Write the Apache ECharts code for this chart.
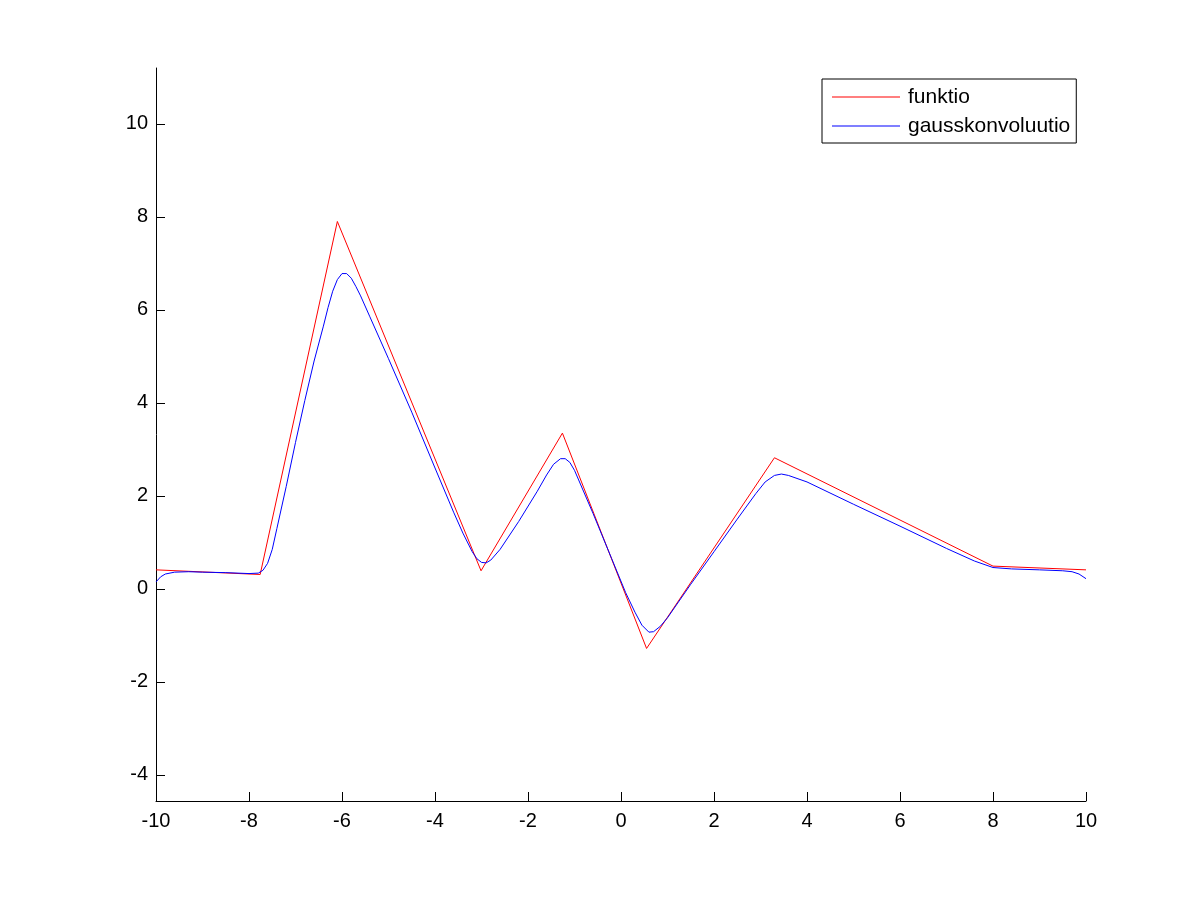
<!DOCTYPE html>
<html>
<head>
<meta charset="utf-8">
<script src="https://cdn.jsdelivr.net/npm/echarts@6/dist/echarts.min.js"></script>
<style>html,body{margin:0;padding:0;background:#fff;}#c{width:1201px;height:901px;}</style>
</head>
<body>
<div id="c"></div>
<script>
const seriesNames = ['funktio', 'gausskonvoluutio'];
const xTicks = [-10, -8, -6, -4, -2, 0, 2, 4, 6, 8, 10];
const yTicks = [-4, -2, 0, 2, 4, 6, 8, 10];
const funktio = [
  [-10, 0.41], [-7.76, 0.31], [-6.1, 7.9], [-3.01, 0.39], [-1.26, 3.35],
  [0.55, -1.28], [3.3, 2.82], [8.0, 0.49], [10, 0.41]
];
const gauss = [
  [-10, 0.15], [-9.9, 0.26], [-9.8, 0.32], [-9.6, 0.36], [-9.3, 0.37], [-9.0, 0.36],
  [-8.5, 0.35], [-8.0, 0.33], [-7.8, 0.34], [-7.7, 0.40], [-7.6, 0.55], [-7.5, 0.85],
  [-7.4, 1.3], [-7.2, 2.2], [-7.0, 3.15], [-6.8, 4.05], [-6.6, 4.9], [-6.4, 5.65],
  [-6.3, 6.05], [-6.2, 6.4], [-6.1, 6.65], [-6.0, 6.78], [-5.9, 6.78], [-5.8, 6.68],
  [-5.7, 6.5], [-5.6, 6.3], [-5.4, 5.85], [-5.0, 4.95], [-4.5, 3.8], [-4.0, 2.6],
  [-3.6, 1.65], [-3.4, 1.2], [-3.2, 0.8], [-3.1, 0.65], [-3.0, 0.57], [-2.9, 0.56],
  [-2.8, 0.62], [-2.6, 0.85], [-2.2, 1.45], [-1.8, 2.1], [-1.6, 2.45], [-1.45, 2.68],
  [-1.3, 2.8], [-1.2, 2.8], [-1.1, 2.72], [-1.0, 2.55], [-0.6, 1.62], [-0.2, 0.65],
  [0.1, -0.08], [0.3, -0.5], [0.45, -0.78], [0.6, -0.93], [0.7, -0.92], [0.85, -0.8],
  [1.0, -0.62], [1.5, 0.1], [2.0, 0.8], [2.5, 1.5], [2.9, 2.05], [3.1, 2.3],
  [3.3, 2.44], [3.45, 2.47], [3.6, 2.44], [4.0, 2.3], [5.0, 1.82], [6.0, 1.35],
  [7.0, 0.87], [7.6, 0.6], [8.0, 0.46], [8.4, 0.43], [9.0, 0.41], [9.5, 0.39],
  [9.7, 0.37], [9.85, 0.32], [10.0, 0.22]
];

const chart = echarts.init(document.getElementById('c'));
const font = 'Liberation Sans, Arial, sans-serif';
chart.setOption({
  backgroundColor: '#ffffff',
  animation: false,
  grid: { left: 156, top: 68, right: 115, bottom: 100 },
  legend: {
    orient: 'vertical',
    left: 822, top: 79,
    padding: [7, 6, 6, 10],
    itemGap: 7,
    itemWidth: 68,
    itemHeight: 1,
    icon: 'rect',
    borderColor: '#000', borderWidth: 1, borderRadius: 0,
    backgroundColor: '#fff',
    textStyle: { fontFamily: font, fontSize: 21, color: '#000', lineHeight: 22, padding: [0, 0, 0, 3] },
    data: seriesNames
  },
  xAxis: {
    type: 'value', min: -10, max: 10, interval: 2,
    axisLine: { show: true, onZero: false, lineStyle: { color: '#000', width: 1 } },
    axisTick: { show: true, inside: true, length: 9, lineStyle: { color: '#000' }, customValues: xTicks },
    axisLabel: { color: '#000', fontFamily: font, fontSize: 20, margin: 10, customValues: xTicks },
    splitLine: { show: false }
  },
  yAxis: {
    type: 'value', min: -4.56, max: 11.2,
    axisLine: { show: true, onZero: false, lineStyle: { color: '#000', width: 1 } },
    axisTick: { show: true, inside: true, length: 9, lineStyle: { color: '#000' }, customValues: yTicks },
    axisLabel: { color: '#000', fontFamily: font, fontSize: 20, margin: 8, customValues: yTicks },
    splitLine: { show: false }
  },
  series: [
    { name: seriesNames[0], type: 'line', data: funktio, symbol: 'none', color: '#ff0000',
      lineStyle: { color: '#ff0000', width: 1 } },
    { name: seriesNames[1], type: 'line', data: gauss, symbol: 'none', color: '#0000ff',
      lineStyle: { color: '#0000ff', width: 1 } }
  ]
});
</script>
</body>
</html>
